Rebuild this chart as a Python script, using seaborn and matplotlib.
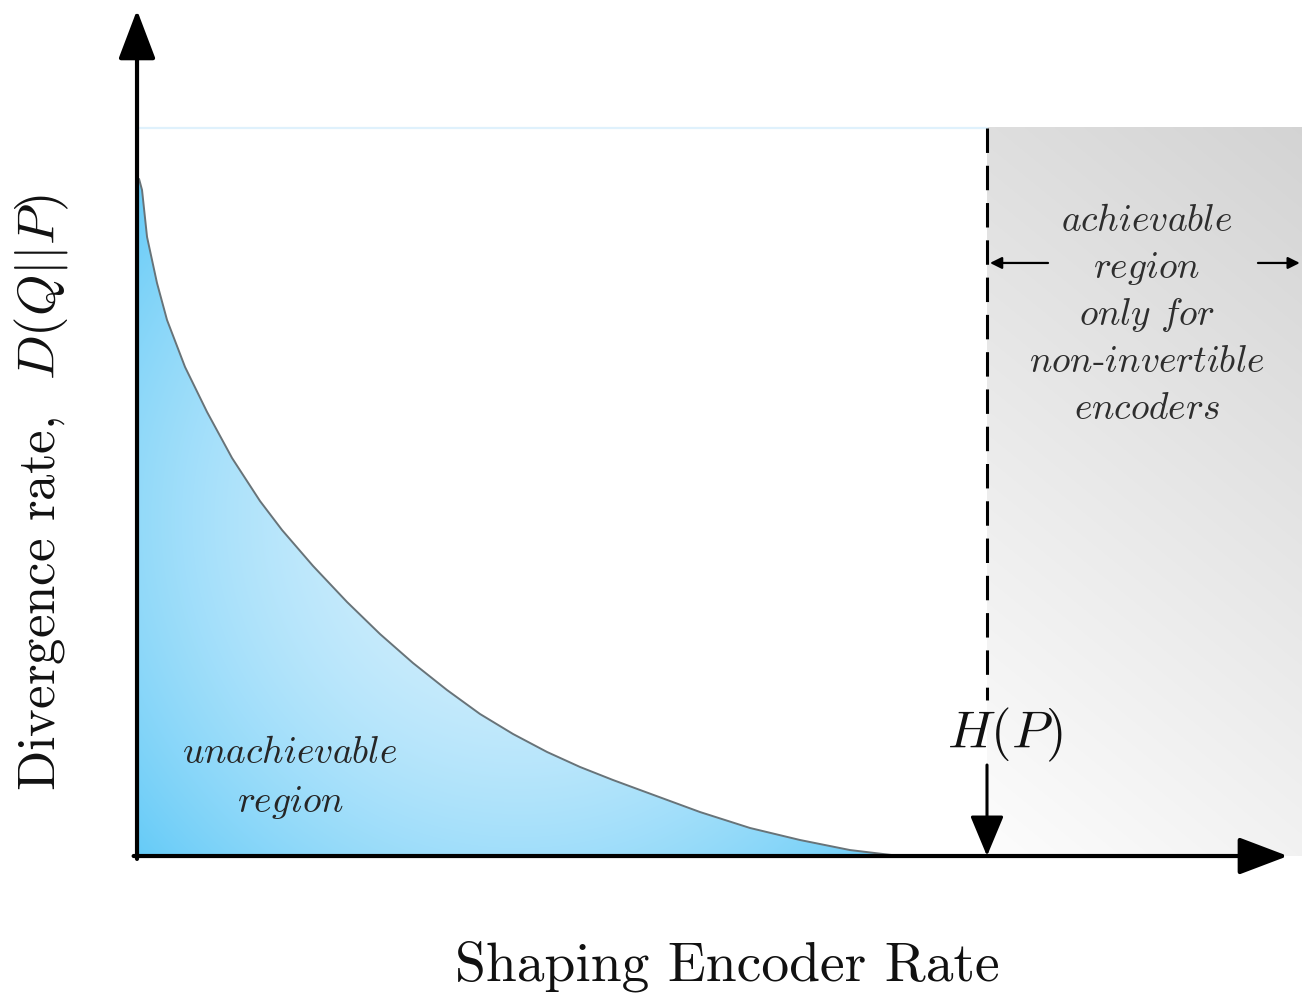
import numpy as np
import pandas as pd
import matplotlib
matplotlib.use("Agg")
import matplotlib.pyplot as plt
from matplotlib.patches import Polygon, ArrowStyle
import seaborn as sns

# ---- data (normalised: x = encoder rate / H(P), y = divergence / top level) ----
rate_x = [0.0024, 0.0059, 0.0118, 0.0235, 0.0353, 0.0565, 0.0824, 0.1118, 0.1447,
          0.1706, 0.2071, 0.2471, 0.2859, 0.3247, 0.3647, 0.4035, 0.4424, 0.4824,
          0.5212, 0.5600, 0.5918, 0.6624, 0.7212, 0.7800, 0.8388, 0.8976]
div_y = [0.930, 0.9148, 0.8503, 0.7871, 0.7363, 0.6717, 0.6099, 0.5467, 0.4876,
         0.4478, 0.3984, 0.3489, 0.3049, 0.2651, 0.2280, 0.1951, 0.1676, 0.1429,
         0.1223, 0.1044, 0.0907, 0.0604, 0.0385, 0.0220, 0.0082, 0.0]
entropy_HP = 1.0
top_level = 1.0

xlabel = "Shaping Encoder Rate"
ylabel = r"Divergence rate,  $D(Q||P)$"
hp_label = r"$H(P)$"
unach_lines = [r"$\mathit{unachievable}$", r"$\mathit{region}$"]
ach_lines = [r"$\mathit{achievable}$", r"$\mathit{region}$", r"$\mathit{only\ for}$",
             r"$\mathit{non}$-$\mathit{invertible}$", r"$\mathit{encoders}$"]

df = pd.DataFrame({"rate": rate_x, "div": div_y})

sns.set_theme(style="white")
plt.rcParams["font.family"] = ["cmr10", "DejaVu Serif"]
plt.rcParams["mathtext.fontset"] = "cm"
plt.rcParams["axes.formatter.use_mathtext"] = True

fig = plt.figure(figsize=(13.02, 9.99), dpi=100)
ax = fig.add_axes([0, 0, 1, 1])
ax.set_axis_off()
XMIN, XMAX = -0.1612, 1.3706
YMIN, YMAX = -0.1964, 1.1758

# ---- grey gradient region (x > H(P)) ----
gx = np.linspace(entropy_HP, XMAX, 200)
gy = np.linspace(0, top_level, 300)
GX, GY = np.meshgrid(gx, gy)
s = 0.74 * (1 - GY / top_level) + 0.26 * (1 - (GX - entropy_HP) / (XMAX - entropy_HP))
val = 0.83 + (0.99 - 0.83) * s
grey = np.dstack([val, val, val])
ax.imshow(grey, origin="lower", extent=[entropy_HP, XMAX, 0, top_level],
          aspect="auto", zorder=0, interpolation="bilinear")

# ---- blue radial gradient under the curve ----
bx = np.linspace(0, max(rate_x), 300)
by = np.linspace(0, max(div_y), 300)
BX, BY = np.meshgrid(bx, by)
cx, cy = 0.45, 0.46
d = np.hypot((BX - cx) * 850, (BY - cy) * 728)
t = np.clip(d / 520, 0, 1) ** 1.8
inner = np.array([0.84, 0.94, 0.99])
outer = np.array([0.38, 0.79, 0.97])
blue = inner[None, None, :] * (1 - t[..., None]) + outer[None, None, :] * t[..., None]
im = ax.imshow(blue, origin="lower", extent=[0, max(rate_x), 0, max(div_y)],
               aspect="auto", zorder=1, interpolation="bilinear")
clip_poly = Polygon(np.column_stack([[0] + rate_x + [0], [div_y[0]] + div_y + [0]]),
                    closed=True, transform=ax.transData, fc="none", ec="none")
ax.add_patch(clip_poly)
im.set_clip_path(clip_poly)

# ---- curve ----
sns.lineplot(data=df, x="rate", y="div", ax=ax, color="#687378", lw=1.4,
             zorder=3, sort=False, estimator=None)

# ---- top light line ----
ax.plot([0, entropy_HP], [top_level, top_level], color="#dff1fc", lw=1.6, zorder=2)

# ---- dashed H(P) line ----
ax.plot([entropy_HP, entropy_HP], [top_level, 0.214], color="black", lw=2.2,
        linestyle=(0, (8, 4.2)), zorder=4)

# ---- axes arrows ----
big = ArrowStyle("-|>", head_length=1.45, head_width=0.55)
ax.annotate("", xy=(0, 1.162), xytext=(0, -0.004),
            arrowprops=dict(arrowstyle=big, mutation_scale=21, lw=3, color="black",
                            shrinkA=0, shrinkB=0), zorder=6)
ax.annotate("", xy=(1.354, 0), xytext=(-0.004, 0),
            arrowprops=dict(arrowstyle=big, mutation_scale=21, lw=3, color="black",
                            shrinkA=0, shrinkB=0), zorder=6)
hp_style = ArrowStyle("-|>", head_length=1.2, head_width=0.5)
ax.annotate("", xy=(entropy_HP, 0.0), xytext=(entropy_HP, 0.125),
            arrowprops=dict(arrowstyle=hp_style, mutation_scale=21, lw=2.2, color="black",
                            shrinkA=0, shrinkB=0), zorder=6)

# ---- small arrows in grey region ----
small = ArrowStyle("-|>", head_length=0.5, head_width=0.25)
ax.annotate("", xy=(1.0035, 0.8146), xytext=(1.0718, 0.8146),
            arrowprops=dict(arrowstyle=small, mutation_scale=14, lw=1.6, color="black",
                            shrinkA=0, shrinkB=0), zorder=6)
ax.annotate("", xy=(1.368, 0.8146), xytext=(1.3188, 0.8146),
            arrowprops=dict(arrowstyle=small, mutation_scale=14, lw=1.6, color="black",
                            shrinkA=0, shrinkB=0), zorder=6)

# ---- texts ----
ax.text(0.695, -0.152, xlabel, ha="center", va="center", fontsize=40, color="#111111")
ax.text(-0.112, 0.499, ylabel, ha="center", va="center", fontsize=38, rotation=90,
        color="#111111")
ax.text(1.021, 0.166, hp_label, ha="center", va="center", fontsize=38, color="#111111")

for i, line in enumerate(unach_lines):
    ax.text(0.18, 0.1277 - i * 0.0673, line, ha="center", va="baseline", fontsize=27,
            color="#262626", zorder=5)
for i, line in enumerate(ach_lines):
    ax.text(1.188, 0.8585 - i * 0.0646, line, ha="center", va="baseline", fontsize=27,
            color="#2e2e2e", zorder=5)

ax.set_xlim(XMIN, XMAX)
ax.set_ylim(YMIN, YMAX)
fig.savefig("out.png", dpi=100, facecolor="white")
